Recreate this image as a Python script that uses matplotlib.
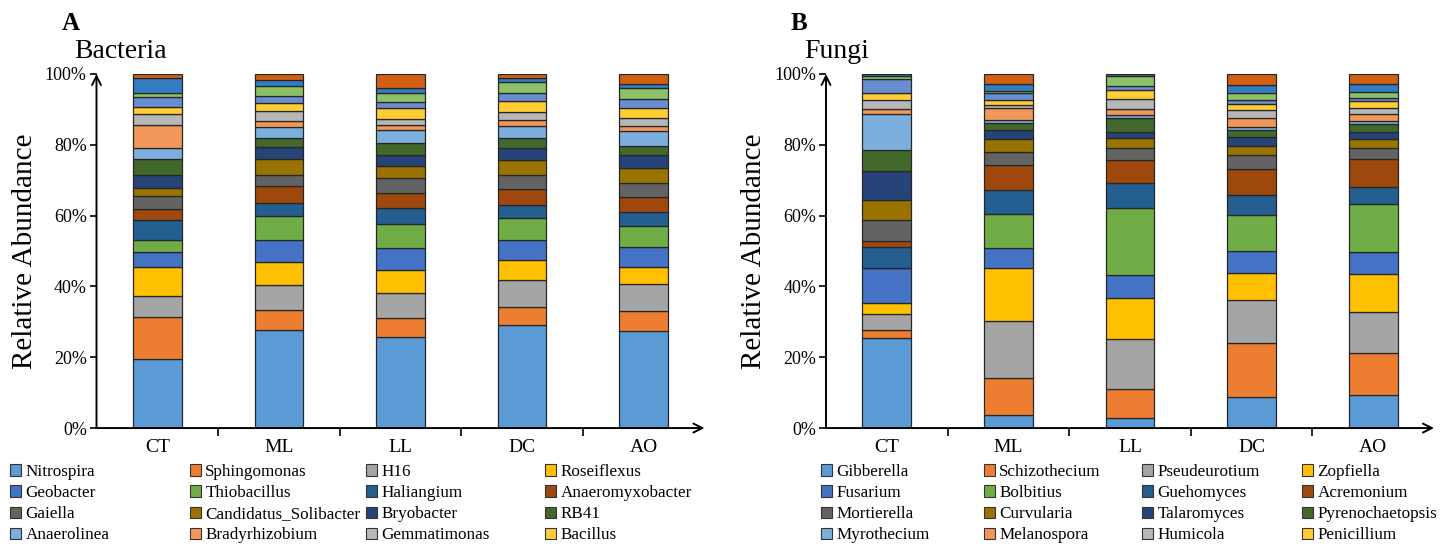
import numpy as np
import matplotlib.pyplot as plt
from matplotlib.patches import Patch
from matplotlib.ticker import PercentFormatter, FixedLocator

plt.rcParams['font.family'] = ['Liberation Serif', 'DejaVu Serif']

samples = ['CT', 'ML', 'LL', 'DC', 'AO']

bacteria_taxa = ['Nitrospira', 'Sphingomonas', 'H16', 'Roseiflexus',
                 'Geobacter', 'Thiobacillus', 'Haliangium', 'Anaeromyxobacter',
                 'Gaiella', 'Candidatus_Solibacter', 'Bryobacter', 'RB41',
                 'Anaerolinea', 'Bradyrhizobium', 'Gemmatimonas', 'Bacillus']

fungi_taxa = ['Gibberella', 'Schizothecium', 'Pseudeurotium', 'Zopfiella',
              'Fusarium', 'Bolbitius', 'Guehomyces', 'Acremonium',
              'Mortierella', 'Curvularia', 'Talaromyces', 'Pyrenochaetopsis',
              'Myrothecium', 'Melanospora', 'Humicola', 'Penicillium']

# % per sample (CT, ML, LL, DC, AO); the last 4 rows are minor taxa not in the legend
bacteria = np.array([
    [19.5, 27.6, 25.6, 29.0, 27.5],
    [11.8, 5.8, 5.6, 5.2, 5.5],
    [6.1, 7.1, 7.0, 7.7, 7.6],
    [8.1, 6.5, 6.5, 5.5, 4.9],
    [4.3, 6.0, 6.2, 5.6, 5.6],
    [3.3, 6.9, 6.8, 6.4, 6.1],
    [5.6, 3.7, 4.4, 3.6, 3.9],
    [3.1, 4.7, 4.3, 4.6, 4.2],
    [3.6, 3.2, 4.2, 4.0, 3.8],
    [2.5, 4.4, 3.4, 4.1, 4.3],
    [3.6, 3.6, 3.1, 3.5, 3.7],
    [4.6, 2.5, 3.5, 2.6, 2.7],
    [3.0, 3.1, 3.5, 3.6, 4.1],
    [6.5, 1.7, 1.6, 1.6, 1.5],
    [3.0, 2.8, 1.5, 2.4, 2.3],
    [2.2, 2.3, 3.1, 3.0, 2.6],
    [2.8, 1.8, 1.8, 2.2, 2.5],
    [1.1, 3.0, 2.5, 3.1, 3.3],
    [4.1, 1.6, 1.5, 1.3, 1.0],
    [1.2, 1.7, 3.9, 1.0, 2.9],
])

fungi = np.array([
    [25.5, 3.8, 2.9, 8.7, 9.4],
    [2.2, 10.2, 8.0, 15.3, 11.9],
    [4.5, 16.1, 14.3, 12.2, 11.5],
    [3.2, 15.2, 11.6, 7.5, 10.7],
    [9.9, 5.5, 6.4, 6.4, 6.3],
    [0.0, 9.7, 18.9, 10.0, 13.5],
    [5.8, 6.8, 7.2, 5.6, 4.8],
    [1.8, 7.0, 6.5, 7.6, 8.0],
    [5.8, 3.6, 3.4, 3.9, 3.0],
    [5.8, 3.6, 2.7, 2.6, 2.5],
    [8.2, 2.8, 1.8, 2.4, 2.1],
    [5.8, 1.8, 3.8, 2.1, 2.2],
    [10.3, 0.9, 0.8, 0.7, 0.8],
    [1.3, 3.3, 1.9, 2.6, 2.0],
    [2.5, 0.8, 2.7, 2.3, 1.6],
    [2.1, 1.5, 2.5, 1.7, 2.1],
    [4.0, 2.0, 1.1, 1.0, 0.8],
    [0.7, 0.7, 2.9, 1.9, 1.7],
    [0.6, 1.9, 0.6, 2.4, 2.2],
    [0.0, 2.8, 0.0, 3.1, 2.9],
])

colors = ['#5B9BD5', '#ED7D31', '#A5A5A5', '#FFC000', '#4472C4', '#70AD47',
          '#255E91', '#9E480E', '#636363', '#997300', '#264478', '#43682B',
          '#7CAFDD', '#F1975A', '#B7B7B7', '#FFCD33', '#698ED0', '#8CC168',
          '#327DC2', '#D26012']

W, H = 1449, 546
fig = plt.figure(figsize=(W / 100, H / 100), dpi=100)


def panel(left_px, values, taxa, letter, title, legend_x):
    ax = fig.add_axes([left_px / W, 0.216, 608 / W, 0.6485])
    x = np.arange(len(samples))
    bottom = np.zeros(len(samples))
    for i, row in enumerate(values):
        ax.bar(x, row / 100, 0.4, bottom=bottom, color=colors[i],
               edgecolor='#262626', linewidth=0.9)
        bottom += row / 100
    ax.set_xlim(-0.5, 4.5)
    ax.set_ylim(0, 1)
    for s in ax.spines.values():
        s.set_visible(False)
    arrow = dict(arrowstyle='->', lw=1.4, color='black', shrinkA=0, shrinkB=0,
                 mutation_scale=16)
    ax.annotate('', xy=(0, 1.0), xytext=(0, 0), xycoords='axes fraction',
                arrowprops=arrow)
    ax.annotate('', xy=(1.0, 0), xytext=(0, 0), xycoords='axes fraction',
                arrowprops=arrow)
    ax.set_xticks(x)
    ax.set_xticklabels(samples, fontsize=14)
    ax.xaxis.set_minor_locator(FixedLocator(np.arange(0.5, 4, 1)))
    ax.tick_params(axis='x', which='major', length=0, pad=8)
    ax.tick_params(axis='x', which='minor', length=6, width=1.2, direction='out')
    ax.set_yticks(np.linspace(0, 1, 6))
    ax.yaxis.set_major_formatter(PercentFormatter(1, decimals=0))
    ax.tick_params(axis='y', length=5, width=1.2, pad=2, labelsize=13)
    ax.set_ylabel('Relative Abundance', fontsize=21, labelpad=5)
    fig.text((left_px - 35) / W, 1 - 24 / H, letter, fontsize=18,
             fontweight='bold', va='center', ha='left')
    fig.text((left_px - 22) / W, 1 - 51 / H, title, fontsize=20,
             va='center', ha='left')

    n = len(taxa)
    for c in range(4):
        handles = [Patch(facecolor=colors[i], edgecolor='#333333', linewidth=0.8,
                         label=taxa[i]) for i in range(c, n, 4)]
        fig.legend(handles=handles, loc='upper left',
                   bbox_to_anchor=(legend_x[c] / W, 1 - 464 / H),
                   frameon=False, fontsize=12.3, handlelength=0.65,
                   handleheight=0.65, handletextpad=0.25, labelspacing=0.3,
                   borderpad=0, borderaxespad=0)
    return ax


panel(96.5, bacteria, bacteria_taxa, 'A', 'Bacteria', [10, 190, 366, 545])
panel(826, fungi, fungi_taxa, 'B', 'Fungi', [821, 984, 1142, 1302])

fig.savefig('out.png', dpi=100)
